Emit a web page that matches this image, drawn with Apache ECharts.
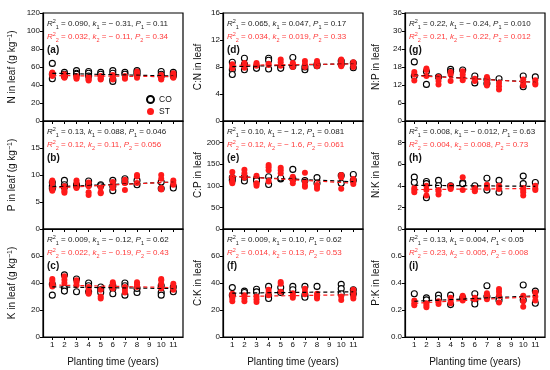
<!DOCTYPE html>
<html><head><meta charset="utf-8">
<script src="https://cdn.jsdelivr.net/npm/echarts@6/dist/echarts.min.js"></script>
<style>html,body{margin:0;padding:0;background:#fff}#c{width:550px;height:370px}</style>
</head><body><div id="c"></div>
<script>
const years = [1, 2, 3, 4, 5, 6, 7, 8, 10, 11];
const xTickValues = [1, 2, 3, 4, 5, 6, 7, 8, 9, 10, 11];
const fitX = [1, 11];

// (a) N in leaf
const nCO = [[64,52,47],[54,52,50],[56,53,52],[55,53,50],[54,52],[56,53,46,44],[54,52],[56,54,52],[55,52,50],[54,52,50]];
const nST = [[54,52,50,53],[52,50,48,49],[49,48,47,50],[49,47,46,45],[50,48,46,47],[51,48,46],[50,48,47],[55,53,50,48],[51,49,47,46],[53,51,49,48]];
const nFitCO = [53, 50];
const nFitST = [50.5, 49.2];
// (b) P in leaf
const pCO = [[8.6,7.9,7.5],[9.0,8.2,7.8],[8.2,8.0],[8.9,8.2],[8.2,8.0],[9.0,7.9,7.1],[9.3,8.7],[9.0,8.2],[8.7,7.5],[7.9,7.6]];
const pST = [[9.0,8.5,7.6,7.1],[7.9,7.3,6.7,7.0],[9.0,8.5,7.6,7.8],[8.6,7.9,6.8,6.3],[7.7,6.8,6.6],[8.7,8.2,7.6],[9.1,8.5,7.2],[10.0,9.7,8.5],[10.0,9.3,7.6,7.3],[9.0,8.5,8.2]];
const pFitCO = [7.8, 8.7];
const pFitST = [7.6, 8.7];
// (c) K in leaf
const kCO = [[31,39],[46,36,34],[43,33.5],[40,38,33.5],[37,35,33],[38,36,32],[40,38,31],[33,36],[38,33,31],[37,33.5]];
const kST = [[43,41.5,39.5,37.5],[45,42.5,40],[42,40.5,38.3],[37,35,32,33],[35,30,28.5],[40.5,39,36],[37,35,33],[40.5,39,37],[43,42,39.5,36],[39.5,37,35]];
const kFitCO = [37.1, 35.9];
const kFitST = [38.5, 36.6];
// (d) C:N in leaf
const cnCO = [[8.7,7.6,6.9],[9.3,8.4,7.6],[8.0,7.8],[9.3,9.0,7.7],[8.0,7.8],[9.4,8.1],[7.6,8.0],[8.4,8.2],[8.9,8.4],[8.6,7.9]];
const cnST = [[8.4,8.1,7.8],[8.6,8.2,7.9],[8.6,8.4,8.2],[8.5,8.3],[9.1,8.7,8.2],[8.6,8.4,8.0],[8.9,8.4,8.0],[8.9,8.5,8.1],[9.1,8.7,8.4,8.1],[8.7,8.4,8.0]];
const cnFitCO = [8.05, 8.5];
const cnFitST = [8.25, 8.45];
// (e) C:P in leaf
const cpCO = [[119,113],[111,120],[116,112],[121,103],[116,118],[138,116],[112],[119,106],[124,106],[126,113]];
const cpST = [[132,120,110,106],[137,129,119],[123,106,100,104],[148,143,136,110],[142,136,129],[121,113,106],[130,110,102,98],[102,93,97],[125,119,93],[116,110,104]];
const cpFitCO = [121.5, 109.5];
const cpFitST = [122, 106];
// (f) C:K in leaf
const ckCO = [[36.6,31],[34,33],[35.4,33.4],[37.5,30.5,28.5],[36.6,33],[37.5,35],[37.5,31,29.5],[37.5],[39,35.8,32],[35,32]];
const ckST = [[32,30.5,28.5,26.5],[31,28.5,26.5],[30,28,26],[35,33,31],[40.7,39.5,33.5],[32.5,30.5,29],[35.8,33.4,31.7],[32,30,28.5],[30,27.5],[35,32.7,30.2,28.5]];
const ckFitCO = [32.5, 33.5];
const ckFitST = [30, 31.3];
// (g) N:P in leaf
const npCO = [[19.7,15],[16.5,12.2],[14.7],[17.2,16.5],[17],[15,12.7],[13.8,12.5],[14.1],[15,11.4],[14.7]];
const npST = [[16.3,15.5,13.5],[17.5,17,15],[14.7,13.3,12.2],[16.3,15.5,13.3],[16.6,15.5,14.4,13.6],[14.1,13.3],[14.7,13.8,13,11.8],[12.7,11.6,10.5],[13.8,12.7,11.8],[13.6,12.7,12.2]];
const npFitCO = [15.3, 12.9];
const npFitST = [15.1, 12.9];
// (h) N:K in leaf
const nkCO = [[4.8,4.3],[4.4,4.2,2.9],[4.5,4.0],[4.0],[4.3,4.2],[4.0],[4.7,3.6],[4.5,3.4],[4.9,4.2],[4.3]];
const nkST = [[3.8,3.6,3.4],[4.0,3.6,3.1],[3.6,3.2,3.5],[4.0,3.8,3.7],[4.8,3.6],[3.8,3.6,3.5],[4.1,3.8,4.0],[4.0,3.7],[3.8,3.6,3.4,3.1],[4.0,3.75,3.6]];
const nkFitCO = [4.05, 3.95];
const nkFitST = [3.65, 3.75];
// (i) P:K in leaf
const pkCO = [[0.32],[0.29,0.275],[0.31,0.285],[0.31,0.24],[0.29],[0.32,0.27,0.245],[0.38,0.30],[0.29,0.27],[0.385,0.275],[0.34,0.25]];
const pkST = [[0.27,0.25,0.235],[0.25,0.235,0.22],[0.265,0.245],[0.29,0.27,0.25],[0.305,0.29,0.27],[0.29,0.28],[0.325,0.31,0.28],[0.355,0.335,0.31,0.255],[0.305,0.265,0.225],[0.33,0.3,0.27]];
const pkFitCO = [0.265, 0.305];
const pkFitST = [0.25, 0.30];

// statistics text: [R2, k, P, relation]
const statsCO = [["0.090","− 0.31","0.11","="],["0.13","0.088","0.046","="],["0.009","− 0.12","0.62","="],["0.065","0.047","0.17","="],["0.10","− 1.2","0.081","="],["0.009","0.10","0.62","="],["0.22","− 0.24","0.010","="],["0.008","− 0.012","0.63","="],["0.13","0.004","0.05","<"]];
const statsST = [["0.032","− 0.11","0.34","="],["0.12","0.11","0.056","="],["0.022","− 0.19","0.43","="],["0.034","0.019","0.33","="],["0.12","− 1.6","0.061","="],["0.014","0.13","0.53","="],["0.21","− 0.22","0.012","="],["0.004","0.008","0.73","="],["0.23","0.005","0.008","="]];
const panelLetters = ["(a)","(b)","(c)","(d)","(e)","(f)","(g)","(h)","(i)"];
const yNames = ["N in leaf (g kg{sup|−1})","P in leaf (g kg{sup|−1})","K in leaf (g kg{sup|−1})","C:N in leaf","C:P in leaf","C:K in leaf","N:P in leaf","N:K in leaf","P:K in leaf"];
const yMax = [120, 20, 80, 16, 250, 80, 36, 10, 0.8];
const yInterval = [20, 5, 20, 4, 50, 20, 6, 2, 0.2];
const xName = "Planting time (years)";

const panels = [
  [nCO,nST,nFitCO,nFitST],[pCO,pST,pFitCO,pFitST],[kCO,kST,kFitCO,kFitST],
  [cnCO,cnST,cnFitCO,cnFitST],[cpCO,cpST,cpFitCO,cpFitST],[ckCO,ckST,ckFitCO,ckFitST],
  [npCO,npST,npFitCO,npFitST],[nkCO,nkST,nkFitCO,nkFitST],[pkCO,pkST,pkFitCO,pkFitST]
];

const colLeft = [43, 223, 405];
const colW = 140;
const rowTop = [13, 121, 229];
const rowH = 108;
const yNameGap = [26, 20, 24];
const RED = '#ff1a1a';
const TXTRED = '#ff3b3b';
const FONT = 'Liberation Sans, Arial, sans-serif';

function pts(groups) {
  const out = [];
  groups.forEach((g, i) => g.forEach(v => out.push([years[i], v])));
  return out;
}

const grids = [], xAxes = [], yAxes = [], series = [], graphics = [];
panels.forEach((p, k) => {
  const col = Math.floor(k / 3), row = k % 3;
  const L = colLeft[col], T = rowTop[row];
  grids.push({left: L, top: T, width: colW, height: rowH, show: true, borderColor: '#000', borderWidth: 1.2, backgroundColor: 'transparent'});
  xAxes.push({
    type: 'value', gridIndex: k, min: 0.23, max: 11.8,
    axisLine: {show: true, lineStyle: {color: '#000', width: 1.2}},
    axisTick: {show: true, inside: false, length: 3, customValues: xTickValues, lineStyle: {color: '#000', width: 1}},
    axisLabel: {show: row === 2, customValues: xTickValues, fontSize: 8, color: '#111', fontFamily: FONT, margin: 4},
    splitLine: {show: false},
    name: row === 2 ? xName : '', nameLocation: 'middle', nameGap: 20,
    nameTextStyle: {fontSize: 10, color: '#111', fontFamily: FONT}
  });
  const iv = yInterval[k];
  yAxes.push({
    type: 'value', gridIndex: k, min: 0, max: yMax[k], interval: iv,
    axisLine: {show: true, lineStyle: {color: '#000', width: 1.2}},
    axisTick: {show: true, inside: false, length: 3, lineStyle: {color: '#000', width: 1}},
    axisLabel: {fontSize: 8, color: '#111', fontFamily: FONT, margin: 3, showMaxLabel: row === 0,
      formatter: v => (iv < 1 ? v.toFixed(1) : String(v))},
    splitLine: {show: false},
    name: yNames[k], nameLocation: 'middle', nameRotate: 90, nameGap: yNameGap[col],
    nameTextStyle: {fontSize: 10, color: '#111', fontFamily: FONT, rich: {sup: {fontSize: 7, verticalAlign: 'top', fontFamily: FONT, color: '#111'}}}
  });
  series.push({type: 'scatter', name: 'CO', xAxisIndex: k, yAxisIndex: k, symbol: 'circle', symbolSize: 6, z: 2,
    itemStyle: {color: '#fff', borderColor: '#000', borderWidth: 1.1, opacity: 1}, data: pts(p[0])});
  series.push({type: 'scatter', name: 'ST', xAxisIndex: k, yAxisIndex: k, symbol: 'circle', symbolSize: 6, z: 3,
    itemStyle: {color: RED, opacity: 1}, data: pts(p[1])});
  series.push({type: 'line', name: 'COfit', xAxisIndex: k, yAxisIndex: k, symbol: 'none', z: 4,
    lineStyle: {color: '#000', width: 1.2, type: [4, 3]}, data: fitX.map((x, i) => [x, p[2][i]])});
  series.push({type: 'line', name: 'STfit', xAxisIndex: k, yAxisIndex: k, symbol: 'none', z: 5,
    lineStyle: {color: RED, width: 1.2, type: [4, 3]}, data: fitX.map((x, i) => [x, p[3][i]])});

  const rich = {
    i: {fontStyle: 'italic', fontSize: 8, fontFamily: FONT, lineHeight: 12},
    t: {fontSize: 8, fontFamily: FONT, lineHeight: 12},
    sup: {fontSize: 5.5, fontFamily: FONT, verticalAlign: 'top'},
    sub: {fontSize: 5.5, fontFamily: FONT, verticalAlign: 'bottom'}
  };
  const mk = (s, n) => `{i|R}{sup|2}{sub|${n}}{t| = ${s[0]}, }{i|k}{sub|${n}}{t| = ${s[1]}, }{i|P}{sub|${n}}{t| ${s[3]} ${s[2]}}`;
  graphics.push({type: 'text', left: L + 4, top: T + 5, silent: true,
    style: {text: mk(statsCO[k], 1), fill: '#222', rich: rich, font: '8px ' + FONT}});
  graphics.push({type: 'text', left: L + 4, top: T + 18, silent: true,
    style: {text: mk(statsST[k], 2), fill: TXTRED, rich: rich, font: '8px ' + FONT}});
  graphics.push({type: 'text', left: L + 4, top: T + 32, silent: true,
    style: {text: panelLetters[k], fill: '#111', font: 'bold 10px ' + FONT}});
});

const chart = echarts.init(document.getElementById('c'), null, {renderer: 'canvas'});
chart.setOption({
  animation: false,
  backgroundColor: '#fff',
  legend: {data: ['CO', 'ST'], orient: 'vertical', left: 146, top: 95, itemWidth: 7, itemHeight: 7, itemGap: 3,
    textStyle: {fontSize: 8.5, color: '#111', fontFamily: FONT}, padding: 0},
  grid: grids, xAxis: xAxes, yAxis: yAxes, series: series, graphic: graphics
});
</script></body></html>
